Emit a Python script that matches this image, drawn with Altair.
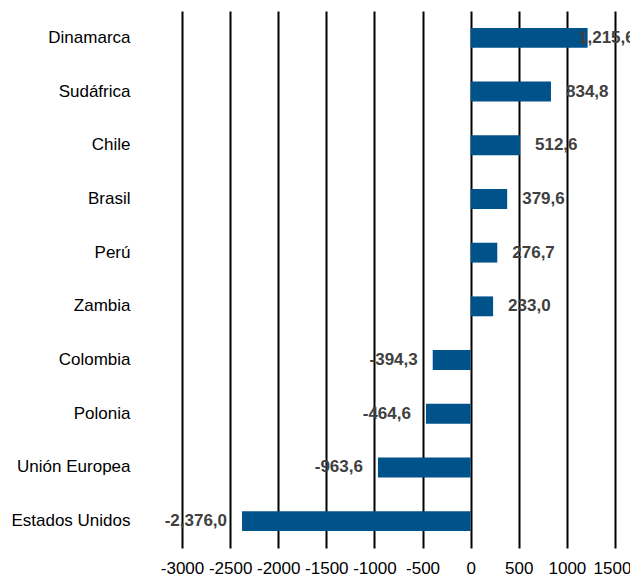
import altair as alt
import pandas as pd

countries = ["Dinamarca", "Sudáfrica", "Chile", "Brasil", "Perú", "Zambia",
             "Colombia", "Polonia", "Unión Europea", "Estados Unidos"]
values = [1215.6, 834.8, 512.6, 379.6, 276.7, 233.0, -394.3, -464.6, -963.6, -2376.0]
ticks = [-3000, -2500, -2000, -1500, -1000, -500, 0, 500, 1000, 1500]

labels = [f"{v:,.1f}".replace(".", "#").replace("#", ",") for v in values]

df = pd.DataFrame({"country": countries, "value": values, "label": labels})

FONT = "Liberation Sans"

x_scale = alt.Scale(domain=[-3000, 1656], nice=False, zero=False)
y_scale = alt.Scale(domain=countries, paddingInner=0.63, paddingOuter=0.315)

base = alt.Chart(df)

bars = base.mark_bar(color="#00538A").encode(
    x=alt.X("value:Q", scale=x_scale,
            axis=alt.Axis(values=ticks, title=None, grid=True, gridColor="#000000",
                          gridWidth=2, gridOpacity=1, domain=False, ticks=False,
                          labelFont=FONT, labelFontSize=17, labelColor="#000000",
                          labelPadding=12, labelExpr="'' + datum.value",
                          labelOffset={"expr": "datum.value == 1500 ? -3 : 0"},
                          labelFlush=False, labelOverlap=False)),
    y=alt.Y("country:N", scale=y_scale, sort=countries,
            axis=alt.Axis(title=None, domain=False, ticks=False, grid=False,
                          labelFont=FONT, labelFontSize=17, labelColor="#000000",
                          labelPadding=52)),
)

pos = base.transform_filter("datum.value > 0").transform_calculate(
    lx="min(datum.value, 960)"
).mark_text(align="left", baseline="middle", dx=15, font=FONT, fontSize=17,
            fontWeight="bold", color="#404040").encode(
    x=alt.X("lx:Q", scale=x_scale),
    y=alt.Y("country:N", scale=y_scale, sort=countries),
    text="label:N",
)

neg = base.transform_filter("datum.value < 0").mark_text(
    align="right", baseline="middle", dx=-15, font=FONT, fontSize=17,
    fontWeight="bold", color="#404040").encode(
    x=alt.X("value:Q", scale=x_scale),
    y=alt.Y("country:N", scale=y_scale, sort=countries),
    text="label:N",
)

chart = alt.layer(bars, pos, neg).properties(
    width=448, height=537,
    autosize=alt.AutoSizeParams(type="none"),
    padding={"left": 174, "top": 3, "right": 0, "bottom": 29},
).configure_view(stroke=None)

chart.save("out.html", embed_options={"renderer": "svg", "actions": False})
